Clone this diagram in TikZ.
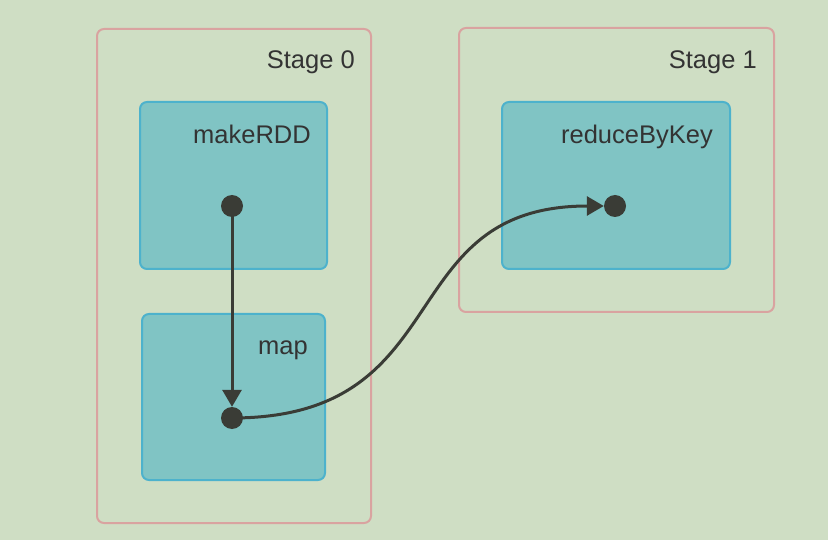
\documentclass[tikz,border=0pt]{standalone}
\usepackage{fontspec}
\setmainfont{Liberation Sans}
\usetikzlibrary{arrows.meta}
\definecolor{bg}{HTML}{CFDEC4}
\definecolor{stageline}{HTML}{D9A3A0}
\definecolor{opfill}{HTML}{80C4C4}
\definecolor{opline}{HTML}{4DB2CC}
\definecolor{ink}{HTML}{3A3C36}
\definecolor{txt}{HTML}{333333}
\tikzset{
  stagebox/.style={draw=stageline, line width=2pt, rounded corners=7pt, inner sep=0pt},
  opbox/.style={draw=opline, fill=opfill, line width=2pt, rounded corners=7pt, inner sep=0pt},
  lbl/.style={anchor=base east, inner sep=0pt, text=txt, font=\fontsize{25.5}{30}\selectfont},
  dotnode/.style={circle, fill=ink, minimum size=22pt, inner sep=0pt},
  edge/.style={draw=ink, line width=3pt, -{Triangle[length=17pt,width=19pt]}},
}
\begin{document}
\begin{tikzpicture}[x=1pt,y=-1pt]
\fill[bg] (0,0) rectangle (828,540);
\useasboundingbox (0,0) rectangle (828,540);
% stages
\node[stagebox, minimum width=274pt, minimum height=494pt, anchor=north west] (s0) at (96,28) {};
\node[stagebox, minimum width=315pt, minimum height=284pt, anchor=north west] (s1) at (458,27) {};
\node[lbl] (s0l) at (355,69) {Stage 0};
\node[lbl] (s1l) at (757,69) {Stage 1};
% operations
\node[opbox, minimum width=187pt, minimum height=167pt, anchor=north west] (mk) at (139,101) {};
\node[opbox, minimum width=183pt, minimum height=166pt, anchor=north west] (mp) at (141,313) {};
\node[opbox, minimum width=228pt, minimum height=167pt, anchor=north west] (rb) at (501,101) {};
\node[lbl] (mkl) at (311,144) {makeRDD};
\node[lbl] (mpl) at (308,355) {map};
\node[lbl] (rbl) at (713,144) {reduceByKey};
% dots
\node[dotnode] (d1) at (232,206) {};
\node[dotnode] (d2) at (232,418) {};
\node[dotnode] (d3) at (615,206) {};
% edges
\draw[edge] (d1.center) -- (d2.north);
\draw[edge] (d2.center) .. controls (460,418) and (390,206) .. (d3.west);
\end{tikzpicture}
\end{document}
